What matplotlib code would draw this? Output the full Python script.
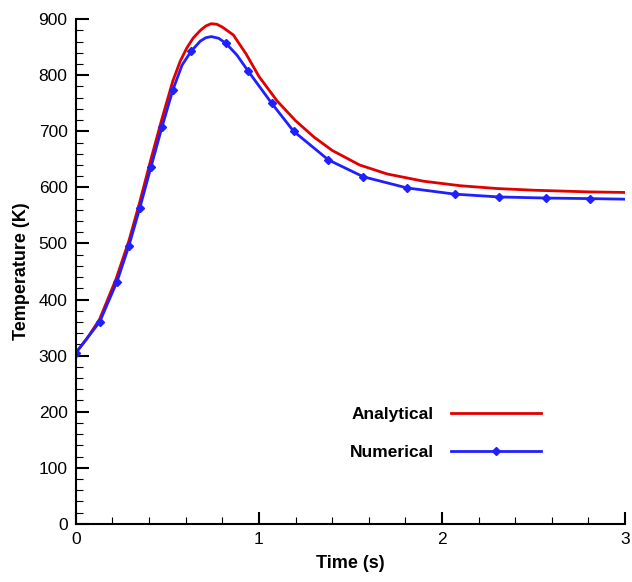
import matplotlib
matplotlib.use('Agg')
import matplotlib.pyplot as plt
from matplotlib.ticker import MultipleLocator

# analytical solution
t_analytical = [0.0, 0.06, 0.13, 0.22, 0.29, 0.35, 0.41, 0.47, 0.53, 0.57, 0.605, 0.64,
                0.68, 0.71, 0.74, 0.77, 0.80, 0.86, 0.93, 1.00, 1.10, 1.20, 1.30, 1.40,
                1.55, 1.70, 1.90, 2.10, 2.30, 2.50, 2.80, 3.00]
T_analytical = [305, 330, 365, 437, 505, 575, 650, 722, 790, 825, 848, 866,
                880, 888, 892, 891, 886, 872, 838, 798, 754, 719, 690, 666,
                640, 624, 611, 603, 598, 595, 592, 591]

# numerical solution
t_numerical = [0.0, 0.13, 0.225, 0.29, 0.35, 0.41, 0.47, 0.53, 0.58, 0.63, 0.68, 0.71, 0.74,
               0.78, 0.82, 0.88, 0.94, 1.07, 1.19, 1.38, 1.57, 1.81, 2.07, 2.31, 2.57,
               2.81, 3.0]
T_numerical = [305, 360, 432, 496, 564, 636, 707, 774, 818, 843, 861, 867, 869,
               866, 857, 836, 808, 750, 700, 649, 619, 599, 588, 583, 581,
               580, 579]
marker_idx = [0, 1, 2, 3, 4, 5, 6, 7, 9, 14, 16, 17, 18, 19, 20, 21, 22, 23, 24, 25]

plt.rcParams['font.family'] = ['Liberation Sans', 'DejaVu Sans']

fig = plt.figure(figsize=(6.32, 5.82), dpi=100)
ax = fig.add_axes([0.120, 0.100, 0.869, 0.867])

ax.plot(t_analytical, T_analytical, color='#e00000', lw=2, label='Analytical')
ax.plot(t_numerical, T_numerical, color='#2020ff', lw=2, marker='D', ms=4,
        markevery=marker_idx, label='Numerical')

ax.set_xlim(0, 3)
ax.set_ylim(0, 900)
ax.xaxis.set_major_locator(MultipleLocator(1))
ax.xaxis.set_minor_locator(MultipleLocator(0.2))
ax.yaxis.set_major_locator(MultipleLocator(100))
ax.yaxis.set_minor_locator(MultipleLocator(20))
ax.tick_params(which='major', direction='in', length=9, width=1.5, labelsize=12.5, pad=6)
ax.tick_params(which='minor', direction='in', length=5, width=0.8)
for s in ['top', 'right']:
    ax.spines[s].set_visible(False)
for s in ['left', 'bottom']:
    ax.spines[s].set_linewidth(1.5)

ax.set_xlabel('Time (s)', fontsize=13, fontweight='bold', labelpad=6)
ax.set_ylabel('Temperature (K)', fontsize=13, fontweight='bold', labelpad=6)

leg = ax.legend(loc='lower left', bbox_to_anchor=(0.47, 0.095), frameon=False,
                markerfirst=False, fontsize=12.5, handlelength=5.2, labelspacing=1.35,
                handletextpad=1.0)
for txt in leg.get_texts():
    txt.set_fontweight('bold')
    txt.set_ha('right')

fig.savefig('out.png', dpi=100)
